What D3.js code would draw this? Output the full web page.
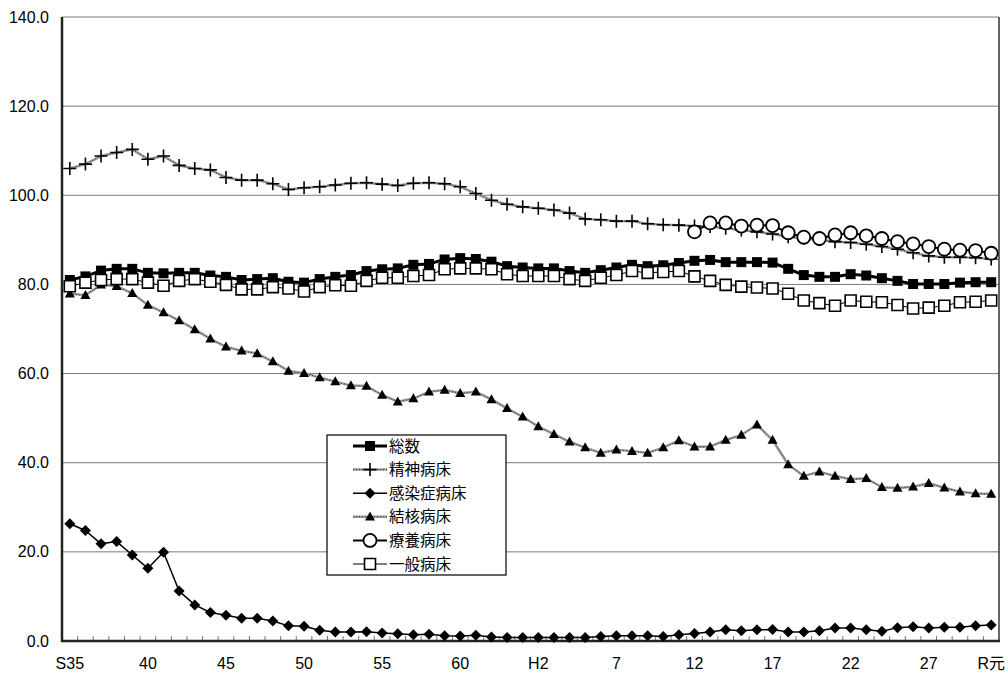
<!DOCTYPE html>
<html>
<head>
<meta charset="utf-8">
<script src="https://cdn.jsdelivr.net/npm/d3@7/dist/d3.min.js"></script>
<style>
  body { margin: 0; background: #fff; }
  svg { display: block; }
</style>
</head>
<body>
<script>
// years S35 .. R1 (one entry per year)
var categories = [
  'S35', 'S36', 'S37', 'S38', 'S39', 'S40', 'S41', 'S42', 'S43', 'S44',
  'S45', 'S46', 'S47', 'S48', 'S49', 'S50', 'S51', 'S52', 'S53', 'S54',
  'S55', 'S56', 'S57', 'S58', 'S59', 'S60', 'S61', 'S62', 'S63', 'H1',
  'H2', 'H3', 'H4', 'H5', 'H6', 'H7', 'H8', 'H9', 'H10', 'H11',
  'H12', 'H13', 'H14', 'H15', 'H16', 'H17', 'H18', 'H19', 'H20', 'H21',
  'H22', 'H23', 'H24', 'H25', 'H26', 'H27', 'H28', 'H29', 'H30', 'R1'
]

var tickCats = ['S35', 'S40', 'S45', 'S50', 'S55', 'S60', 'H2', 'H7', 'H12', 'H17', 'H22', 'H27', 'R1']
var tickLabels = ['S35', '40', '45', '50', '55', '60', 'H2', '7', '12', '17', '22', '27', 'R元']

var yTicks = [0, 20, 40, 60, 80, 100, 120, 140]

var total = [
  81.0, 81.8, 83.1, 83.5, 83.5, 82.6, 82.5, 82.6, 82.6, 82.0,
  81.7, 81.0, 81.2, 81.4, 80.6, 80.4, 81.2, 81.7, 82.1, 83.0,
  83.4, 83.6, 84.4, 84.6, 85.6, 85.9, 85.7, 85.1, 84.1, 83.8,
  83.6, 83.6, 83.0, 82.6, 83.2, 83.8, 84.4, 84.1, 84.3, 84.8,
  85.3, 85.5, 85.0, 85.0, 85.0, 84.9, 83.5, 82.1, 81.7, 81.7,
  82.3, 82.0, 81.4, 80.8, 80.1, 80.1, 80.1, 80.4, 80.5, 80.5
]

var psych = [
  106.0, 107.0, 108.8, 109.6, 110.3, 108.1, 108.8, 106.7, 106.0, 105.7,
  104.0, 103.4, 103.4, 102.6, 101.3, 101.7, 101.9, 102.3, 102.7, 102.8,
  102.5, 102.2, 102.7, 102.8, 102.6, 101.9, 100.4, 98.9, 98.0, 97.4,
  97.1, 96.7, 96.0, 94.7, 94.5, 94.2, 94.2, 93.6, 93.4, 93.3,
  93.1, 93.0, 92.6, 92.2, 91.8, 91.3, 90.7, 90.3, 90.0, 89.6,
  89.4, 89.0, 88.5, 87.9, 87.1, 86.4, 86.1, 86.1, 86.0, 85.7
]

var infect = [
  26.3, 24.8, 21.8, 22.3, 19.3, 16.3, 19.9, 11.2, 8.1, 6.4,
  5.8, 5.1, 5.1, 4.5, 3.4, 3.3, 2.4, 2.0, 2.0, 2.1,
  1.8, 1.6, 1.4, 1.5, 1.2, 1.1, 1.3, 0.9, 0.8, 0.8,
  0.8, 0.8, 0.8, 0.8, 1.0, 1.2, 1.2, 1.2, 1.0, 1.4,
  1.7, 2.0, 2.5, 2.3, 2.5, 2.6, 2.0, 2.0, 2.3, 2.9,
  2.9, 2.5, 2.2, 3.0, 3.2, 2.9, 3.1, 3.1, 3.4, 3.6
]

var tb = [
  77.9, 77.6, 79.9, 79.6, 78.0, 75.4, 73.7, 71.9, 69.9, 67.8,
  66.0, 65.1, 64.5, 62.7, 60.6, 60.1, 59.1, 58.2, 57.3, 57.2,
  55.2, 53.7, 54.4, 55.9, 56.3, 55.6, 55.9, 54.2, 52.2, 50.3,
  48.1, 46.4, 44.7, 43.4, 42.2, 42.9, 42.6, 42.2, 43.4, 45.0,
  43.6, 43.6, 45.1, 46.2, 48.5, 45.1, 39.6, 37.0, 38.0, 37.0,
  36.3, 36.5, 34.5, 34.3, 34.6, 35.4, 34.4, 33.5, 33.1, 33.0
]

// 療養病床 only from H12
var ltc = [
  null, null, null, null, null, null, null, null, null, null,
  null, null, null, null, null, null, null, null, null, null,
  null, null, null, null, null, null, null, null, null, null,
  null, null, null, null, null, null, null, null, null, null,
  91.8, 93.8, 93.8, 93.1, 93.3, 93.2, 91.6, 90.6, 90.3, 91.1,
  91.6, 90.9, 90.3, 89.6, 89.1, 88.5, 87.9, 87.7, 87.6, 87.0
]

var general = [
  79.6, 80.4, 81.0, 81.2, 81.2, 80.4, 79.7, 80.8, 81.2, 80.6,
  79.9, 78.9, 78.9, 79.4, 79.1, 78.4, 79.4, 79.8, 79.7, 80.8,
  81.5, 81.5, 81.9, 82.1, 83.4, 83.6, 83.6, 83.4, 82.3, 81.9,
  81.9, 81.9, 81.2, 80.8, 81.5, 82.1, 83.0, 82.6, 82.8, 83.0,
  81.8, 80.8, 79.9, 79.5, 79.3, 79.1, 77.9, 76.4, 75.8, 75.2,
  76.4, 76.1, 76.0, 75.4, 74.6, 74.8, 75.2, 76.0, 76.1, 76.4
]

var seriesNames = ['総数', '精神病床', '感染症病床', '結核病床', '療養病床', '一般病床']
var seriesValues = [total, psych, infect, tb, ltc, general]

var W = 1008, H = 675
var plotL = 62, plotR = 999, plotT = 17, plotB = 641

var svg = d3.select('body').append('svg')
  .attr('width', W)
  .attr('height', H)

var x = d3.scaleBand().domain(categories).range([plotL, plotR])
var y = d3.scaleLinear().domain([0, 140]).range([plotB, plotT])

function cx(c) { return x(c) + x.bandwidth() / 2 }

// gridlines
svg.append('g')
  .selectAll('line')
  .data(yTicks.slice(1))
  .enter()
  .append('line')
  .attr('x1', plotL).attr('x2', plotR)
  .attr('y1', function (d) { return y(d) })
  .attr('y2', function (d) { return y(d) })
  .attr('stroke', '#7a7a7a')
  .attr('stroke-width', 1)

// right border of plot area
svg.append('line')
  .attr('x1', plotR).attr('x2', plotR)
  .attr('y1', plotT).attr('y2', plotB)
  .attr('stroke', '#333').attr('stroke-width', 1.5)

// y axis labels
var yAxis = d3.axisLeft(y).tickValues(yTicks).tickFormat(d3.format('.1f')).tickSize(0).tickPadding(13)
var gy = svg.append('g').attr('transform', 'translate(' + plotL + ',0)').call(yAxis)
gy.select('.domain').remove()
gy.selectAll('text')
  .attr('font-family', 'Liberation Sans, Arial, sans-serif')
  .attr('font-size', 16)
  .attr('fill', '#000')

// x axis: small ticks between categories, pointing up
var bounds = categories.map(function (c) { return x(c) }).slice(1)
svg.append('g')
  .selectAll('line')
  .data(bounds)
  .enter()
  .append('line')
  .attr('x1', function (d) { return d }).attr('x2', function (d) { return d })
  .attr('y1', plotB).attr('y2', plotB - 5)
  .attr('stroke', '#777').attr('stroke-width', 1)

svg.append('g')
  .selectAll('text')
  .data(tickCats)
  .enter()
  .append('text')
  .attr('x', function (d) { return cx(d) })
  .attr('y', 669)
  .attr('text-anchor', 'middle')
  .attr('font-family', 'Liberation Sans, Arial, Noto Sans CJK JP, sans-serif')
  .attr('font-size', 16)
  .text(function (d, i) { return tickLabels[i] })

// axes lines
svg.append('line')
  .attr('x1', plotL).attr('x2', plotL).attr('y1', plotT).attr('y2', plotB + 1)
  .attr('stroke', '#222').attr('stroke-width', 2.5)
svg.append('line')
  .attr('x1', plotL - 1).attr('x2', plotR + 1).attr('y1', plotB).attr('y2', plotB)
  .attr('stroke', '#222').attr('stroke-width', 2.5)

// series styles (line and marker)
var styles = [
  {stroke: '#000', width: 3, marker: 'square', fill: '#000', size: 10},
  {stroke: '#9a9a9a', width: 2.5, dotted: true, marker: 'plus', size: 13},
  {stroke: '#000', width: 1.5, marker: 'diamond', fill: '#000', size: 11},
  {stroke: '#9a9a9a', width: 2.5, dotted: true, marker: 'triangle', fill: '#000', size: 10},
  {stroke: '#000', width: 2, marker: 'circle', fill: '#fff', size: 13},
  {stroke: '#000', width: 1, marker: 'osquare', fill: '#fff', size: 11}
]

function markerPath(kind, s) {
  var h = s / 2
  if (kind === 'square' || kind === 'osquare') {
    return 'M' + (-h) + ',' + (-h) + 'H' + h + 'V' + h + 'H' + (-h) + 'Z'
  }
  if (kind === 'plus') {
    return 'M' + (-h) + ',0H' + h + 'M0,' + (-h) + 'V' + h
  }
  if (kind === 'diamond') {
    return 'M0,' + (-h) + 'L' + h + ',0L0,' + h + 'L' + (-h) + ',0Z'
  }
  if (kind === 'triangle') {
    return 'M0,' + (-h * 1.05) + 'L' + h + ',' + (h * 0.75) + 'L' + (-h) + ',' + (h * 0.75) + 'Z'
  }
  if (kind === 'circle') {
    return d3.symbol().type(d3.symbolCircle).size(Math.PI * h * h)()
  }
}

function drawMarker(sel, st) {
  var p = sel.append('path').attr('d', markerPath(st.marker, st.size))
  if (st.marker === 'plus') {
    p.attr('fill', 'none').attr('stroke', '#000').attr('stroke-width', 1.6)
  } else if (st.marker === 'circle') {
    p.attr('fill', '#fff').attr('stroke', '#000').attr('stroke-width', 1.8)
  } else if (st.marker === 'osquare') {
    p.attr('fill', '#fff').attr('stroke', '#000').attr('stroke-width', 1.6)
  } else {
    p.attr('fill', st.fill).attr('stroke', 'none')
  }
  return p
}

function drawLine(g, pathD, st) {
  g.append('path')
    .attr('d', pathD)
    .attr('fill', 'none')
    .attr('stroke', st.stroke)
    .attr('stroke-width', st.width)
    .attr('stroke-linejoin', 'round')
  if (st.dotted) {
    g.append('path')
      .attr('d', pathD)
      .attr('fill', 'none')
      .attr('stroke', '#333')
      .attr('stroke-width', 1)
      .attr('stroke-dasharray', '1,2')
  }
}

var line = d3.line()
  .defined(function (d) { return d !== null })
  .x(function (d, i) { return cx(categories[i]) })
  .y(function (d) { return y(d) })

seriesValues.forEach(function (vals, si) {
  var st = styles[si]
  var g = svg.append('g')
  drawLine(g, line(vals), st)
  var pts = vals.map(function (v, i) { return {c: categories[i], v: v} })
    .filter(function (d) { return d.v !== null })
  pts.forEach(function (d) {
    var m = g.append('g').attr('transform', 'translate(' + cx(d.c) + ',' + y(d.v) + ')')
    drawMarker(m, st)
  })
})

// legend
var lg = svg.append('g')
lg.append('rect')
  .attr('x', 327).attr('y', 435)
  .attr('width', 179).attr('height', 140)
  .attr('fill', '#fff').attr('stroke', '#000').attr('stroke-width', 1.2)

seriesNames.forEach(function (name, i) {
  var st = styles[i]
  var ly = 446 + i * 23.6
  var row = lg.append('g')
  drawLine(row, 'M353,' + ly + 'H387', st)
  var m = row.append('g').attr('transform', 'translate(370,' + ly + ')')
  drawMarker(m, st)
  row.append('text')
    .attr('x', 389).attr('y', ly + 5.5)
    .attr('font-family', 'Noto Sans CJK JP, sans-serif')
    .attr('font-size', 15.5)
    .text(name)
})
</script>
</body>
</html>
